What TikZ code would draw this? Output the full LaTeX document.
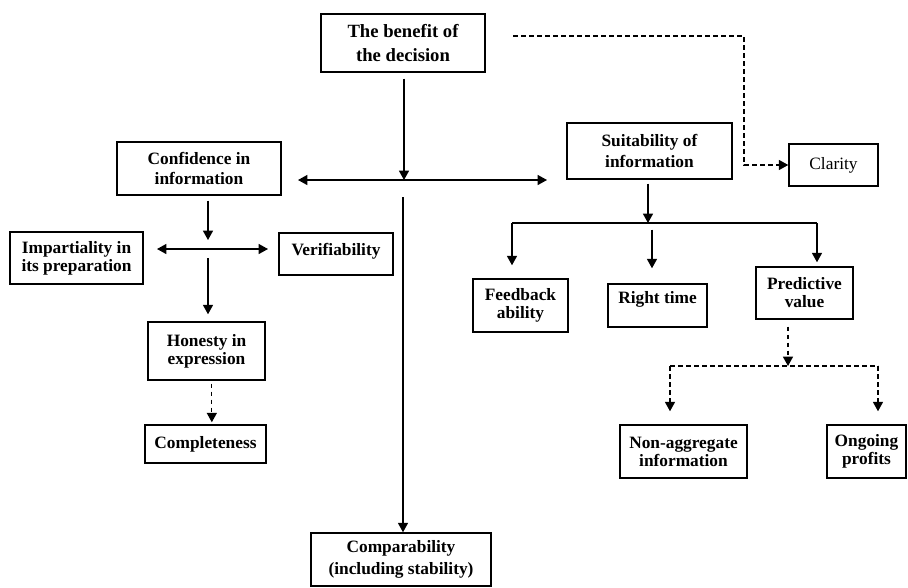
\documentclass[tikz,border=0pt]{standalone}
\usepackage{fontspec}
\setmainfont{Liberation Serif}
\usetikzlibrary{arrows.meta}

\tikzset{every picture/.style={line width=0.75pt}}
\tikzset{
  sz/.style 2 args={minimum width=#1*0.75pt, minimum height=#2*0.75pt},
  box/.style={draw, line width=1.1pt, align=center, inner sep=0pt,
    font=\fontsize{13}{13.5}\selectfont\bfseries},
  link/.style={line width=0.9pt, -{Triangle[length=7pt,width=7.5pt]}},
  twoway/.style={line width=0.9pt, {Triangle[length=7pt,width=7.5pt]}-{Triangle[length=7pt,width=7.5pt]}},
  dlink/.style={link, dash pattern=on 3.5pt off 2.5pt},
  bar/.style={line width=0.9pt},
  dbar/.style={bar, dash pattern=on 3.5pt off 2.5pt}
}

\begin{document}
\begin{tikzpicture}[x=0.75pt,y=0.75pt,yscale=-1,xscale=1]
	\useasboundingbox (0,0) rectangle (908,587);

	%Shape: Rectangle [benefit]
	\node[box, sz={164}{58}, font=\fontsize{14}{18}\selectfont\bfseries] (benefit) at (403,43) {The benefit of\\the decision};
	%Shape: Rectangle [clarity]
	\node[box, sz={89}{42}, font=\fontsize{13}{15}\selectfont] (clarity) at (833.5,165) {Clarity};
	%Shape: Rectangle [suit]
	\node[box, sz={165}{56}, font=\fontsize{13}{15.75}\selectfont\bfseries] (suit) at (649.5,151) {Suitability of\\information};
	%Shape: Rectangle [conf]
	\node[box, sz={164}{53}, font=\fontsize{13}{15.25}\selectfont\bfseries] (conf) at (199,168.5) {Confidence in\\information};
	%Shape: Rectangle [impart]
	\node[box, sz={133}{52}] (impart) at (76.5,258) {Impartiality in\\its preparation};
	%Shape: Rectangle [verif]
	\node[box, sz={114}{42}, text depth=7.5pt] (verif) at (336,254) {Verifiability};
	%Shape: Rectangle [honesty]
	\node[box, sz={117}{58}] (honesty) at (206.5,351) {Honesty in\\expression};
	%Shape: Rectangle [complete]
	\node[box, sz={121}{38}] (complete) at (205.5,444) {Completeness};
	%Shape: Rectangle [compar]
	\node[box, sz={180}{53}, font=\fontsize{13}{16.25}\selectfont\bfseries] (compar) at (401,559.5) {Comparability\\(including stability)};
	%Shape: Rectangle [feedback]
	\node[box, sz={95}{53}] (feedback) at (520.5,305.5) {Feedback\\ability};
	%Shape: Rectangle [righttime]
	\node[box, sz={99}{43}, text depth=12pt] (righttime) at (657.5,305.5) {Right time};
	%Shape: Rectangle [predict]
	\node[box, sz={97}{52}] (predict) at (804.5,293) {Predictive\\value};
	%Shape: Rectangle [nonagg]
	\node[box, sz={127}{53}] (nonagg) at (683.5,451.5) {Non-aggregate\\information};
	%Shape: Rectangle [ongoing]
	\node[box, sz={79}{53}] (ongoing) at (866.5,451.5) {Ongoing\\profits};

	% junction points
	\coordinate (hub) at (404,180);
	\coordinate (hubL) at (298,180);
	\coordinate (hubR) at (547,180);
	\coordinate (comparTop) at (403,197);
	\coordinate (dashStart) at (513,36);
	\coordinate (dashCorner) at (744,36);
	\coordinate (suitBar) at (648,223);
	\coordinate (barL) at (512,223);
	\coordinate (barM) at (652,223);
	\coordinate (barR) at (817,223);
	\coordinate (confHub) at (208,249);
	\coordinate (confL) at (157,249);
	\coordinate (confR) at (268,249);
	\coordinate (predHub) at (788,366);
	\coordinate (predL) at (670,366);
	\coordinate (predR) at (878,366);

	%Straight Lines [top]
	\draw[link, shorten <=4.5pt] (hub |- benefit.south) -- (hub);
	\draw[twoway] (hubL) -- (hubR);
	\draw[link] (comparTop) -- (comparTop |- compar.north);
	%Straight Lines [clarity, dashed]
	\draw[dlink] (dashStart) -- (dashCorner) |- (clarity.west);

	%Straight Lines [suitability]
	\draw[link, shorten <=3pt] (suitBar |- suit.south) -- (suitBar);
	\draw[bar] (barL) -- (barR);
	\draw[link, shorten >=9.75pt] (barL) -- (barL |- feedback.north);
	\draw[link, shorten <=5pt, shorten >=11.25pt] (barM) -- (barM |- righttime.north);
	\draw[link, shorten >=3pt] (barR) -- (barR |- predict.north);

	%Straight Lines [confidence]
	\draw[link, shorten <=3.75pt, shorten >=6.75pt] (confHub |- conf.south) -- (confHub);
	\draw[twoway] (confL) -- (confR);
	\draw[link, shorten <=6.75pt, shorten >=5.25pt] (confHub) -- (confHub |- honesty.north);
	\draw[dlink, shorten <=2.25pt, shorten >=1.5pt] ([xshift=4pt]honesty.south) -- ([xshift=4pt]honesty.south |- complete.north);

	%Straight Lines [predictive, dashed]
	\draw[dlink, shorten <=5.25pt] (predHub |- predict.south) -- (predHub);
	\draw[dbar] (predL) -- (predR);
	\draw[dlink, shorten >=9.75pt] (predL) -- (predL |- nonagg.north);
	\draw[dlink, shorten >=9.75pt] (predR) -- (predR |- ongoing.north);

\end{tikzpicture}
\end{document}
